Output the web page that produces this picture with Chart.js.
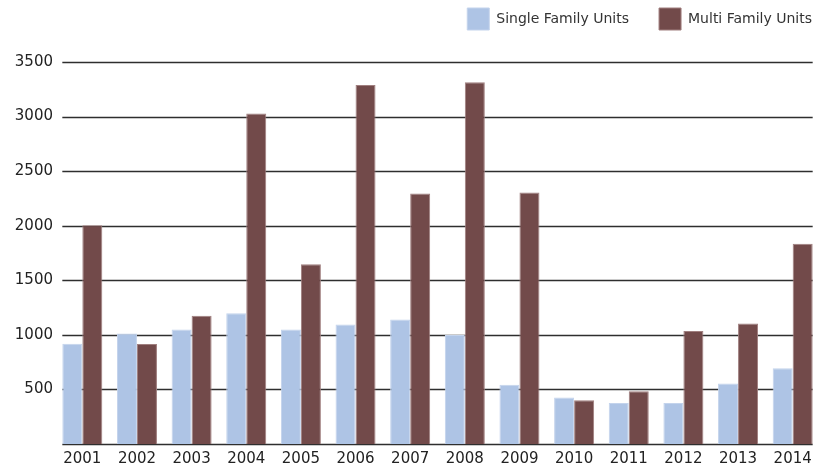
<!DOCTYPE html>
<html>
<head>
<meta charset="utf-8">
<script src="https://cdn.jsdelivr.net/npm/chart.js@4/dist/chart.umd.min.js"></script>
<style>
  html, body { margin: 0; padding: 0; background: #fff; }
  #wrap { width: 828px; height: 471px; }
</style>
</head>
<body>
<div id="wrap"><canvas id="myChart" width="828" height="471"></canvas></div>
<script>
var years = ['2001', '2002', '2003', '2004', '2005', '2006', '2007', '2008', '2009', '2010', '2011', '2012', '2013', '2014'];
var singleFamily = [918, 1012, 1049, 1198, 1049, 1095, 1140, 999, 544, 425, 376, 376, 554, 694];
var multiFamily = [2005, 917, 1174, 3029, 1648, 3289, 2296, 3314, 2305, 401, 483, 1036, 1104, 1834];
var yTicks = [0, 500, 1000, 1500, 2000, 2500, 3000, 3500];

// legend: keep the 30px gap between items but place it like the original
var legendPlace = {
  id: 'legendPlace',
  beforeInit: function (chart) {
    var fit = chart.legend.fit;
    chart.legend.fit = function () {
      fit.call(this);
      this.height = 62;
    };
  },
  afterLayout: function (chart) {
    chart.legend.top -= 22;
    chart.legend.right += 22;
  }
};

// horizontal rules only across the bar groups, behind the bars
var rules = {
  id: 'rules',
  beforeDatasetsDraw: function (chart) {
    var ctx = chart.ctx;
    var first = chart.getDatasetMeta(0).data[0];
    var last = chart.getDatasetMeta(1).data[years.length - 1];
    var x0 = first.x - first.width / 2;
    var x1 = last.x + last.width / 2;
    var y = chart.scales.y;
    ctx.save();
    ctx.strokeStyle = '#2e2e2e';
    ctx.lineWidth = 1.5;
    yTicks.forEach(function (v) {
      var py = Math.round(y.getPixelForValue(v)) + 0.5;
      ctx.beginPath();
      ctx.moveTo(x0, py);
      ctx.lineTo(x1, py);
      ctx.stroke();
    });
    ctx.restore();
  }
};

var ctx = document.getElementById('myChart').getContext('2d');
var myChart = new Chart(ctx, {
  type: 'bar',
  data: {
    labels: years,
    datasets: [{
      label: 'Single Family Units',
      data: singleFamily,
      backgroundColor: '#aec4e5',
      borderColor: '#c3d3ec',
      borderWidth: 1,
      barPercentage: 1,
      categoryPercentage: 0.732
    }, {
      label: 'Multi Family Units',
      data: multiFamily,
      backgroundColor: '#724a4a',
      borderColor: '#a07f7f',
      borderWidth: 1,
      barPercentage: 1,
      categoryPercentage: 0.732
    }]
  },
  options: {
    responsive: false,
    animation: false,
    layout: { padding: { left: 0, right: 8, top: 0, bottom: 0 } },
    plugins: {
      tooltip: { enabled: false },
      legend: {
        position: 'top',
        align: 'end',
        labels: {
          boxWidth: 22,
          boxHeight: 22,
          padding: 30,
          color: '#333',
          font: { family: 'DejaVu Sans', size: 14 }
        }
      }
    },
    scales: {
      x: {
        grid: { display: false, drawTicks: false },
        border: { display: false },
        ticks: {
          color: '#222',
          padding: 6,
          font: { family: 'DejaVu Sans', size: 15 }
        },
        afterFit: function (s) { s.height = 27; }
      },
      y: {
        min: 0,
        max: 3500,
        grid: { display: false, drawTicks: false },
        border: { display: false },
        ticks: {
          stepSize: 500,
          padding: 2,
          color: '#222',
          font: { family: 'DejaVu Sans', size: 15 },
          callback: function (v) { return v === 0 ? '' : String(v); }
        },
        afterFit: function (s) { s.width = 55; }
      }
    }
  },
  plugins: [legendPlace, rules]
});
</script>
</body>
</html>
